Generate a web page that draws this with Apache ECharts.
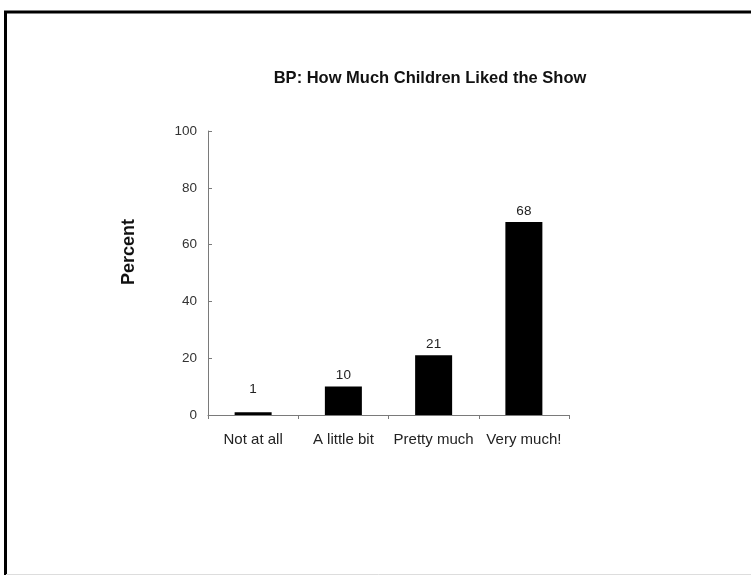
<!DOCTYPE html>
<html>
<head>
<meta charset="utf-8">
<style>
  html, body { margin: 0; padding: 0; background: #fff; }
  #chart { width: 751px; height: 575px; }
</style>
<script src="https://cdn.jsdelivr.net/npm/echarts@6/dist/echarts.min.js"></script>
</head>
<body>
<div id="chart"></div>
<script>
// Survey responses: how much children liked the show
const categories = ['Not at all', 'A little bit', 'Pretty much', 'Very much!'];
const percents = [1, 10, 21, 68];
const yTicks = [0, 20, 40, 60, 80, 100];

const font = '"Liberation Sans", Arial, sans-serif';
const chart = echarts.init(document.getElementById('chart'));

chart.setOption({
  animation: false,
  backgroundColor: '#fff',
  title: {
    text: 'BP: How Much Children Liked the Show',
    left: 425,
    top: 65,
    textAlign: 'center',
    textStyle: { fontFamily: font, fontSize: 16.5, fontWeight: 'bold', color: '#111' }
  },
  grid: { left: 208, right: 182, top: 131, bottom: 160 },
  xAxis: {
    type: 'category',
    data: categories,
    axisLine: { lineStyle: { color: '#7a7a7a', width: 1 } },
    axisTick: { show: true, interval: 0, length: 4, alignWithLabel: false, lineStyle: { color: '#7a7a7a' } },
    axisLabel: { interval: 0, fontFamily: font, fontSize: 15, color: '#222', margin: 17 }
  },
  yAxis: {
    type: 'value',
    min: yTicks[0],
    max: yTicks[yTicks.length - 1],
    interval: yTicks[1] - yTicks[0],
    splitLine: { show: false },
    axisLine: { show: true, lineStyle: { color: '#7a7a7a', width: 1 } },
    axisTick: { show: true, inside: true, length: 4, lineStyle: { color: '#7a7a7a' } },
    axisLabel: { fontFamily: font, fontSize: 13.5, color: '#333', margin: 11 }
  },
  series: [{
    type: 'bar',
    barWidth: 37,
    itemStyle: { color: '#000' },
    data: percents.map((v, i) => i === 0
      ? { value: v, label: { offset: [0, -12] } }
      : v),
    label: {
      show: true,
      position: 'top',
      distance: 4,
      fontFamily: font,
      fontSize: 13.5,
      color: '#222'
    }
  }],
  graphic: [
    // page frame
    { type: 'line', shape: { x1: 4, y1: 12, x2: 751, y2: 12 }, style: { stroke: '#000', lineWidth: 3 } },
    { type: 'line', shape: { x1: 5.5, y1: 11, x2: 5.5, y2: 575 }, style: { stroke: '#000', lineWidth: 3 } },
    { type: 'line', shape: { x1: 6, y1: 574.5, x2: 751, y2: 574.5 }, style: { stroke: '#ddd', lineWidth: 1 } },
    // y-axis title
    {
      type: 'text',
      x: 129, y: 252,
      rotation: Math.PI / 2,
      style: {
        text: 'Percent',
        font: 'bold 18px ' + font,
        fill: '#111',
        textAlign: 'center',
        textVerticalAlign: 'middle'
      }
    }
  ]
});
</script>
</body>
</html>
